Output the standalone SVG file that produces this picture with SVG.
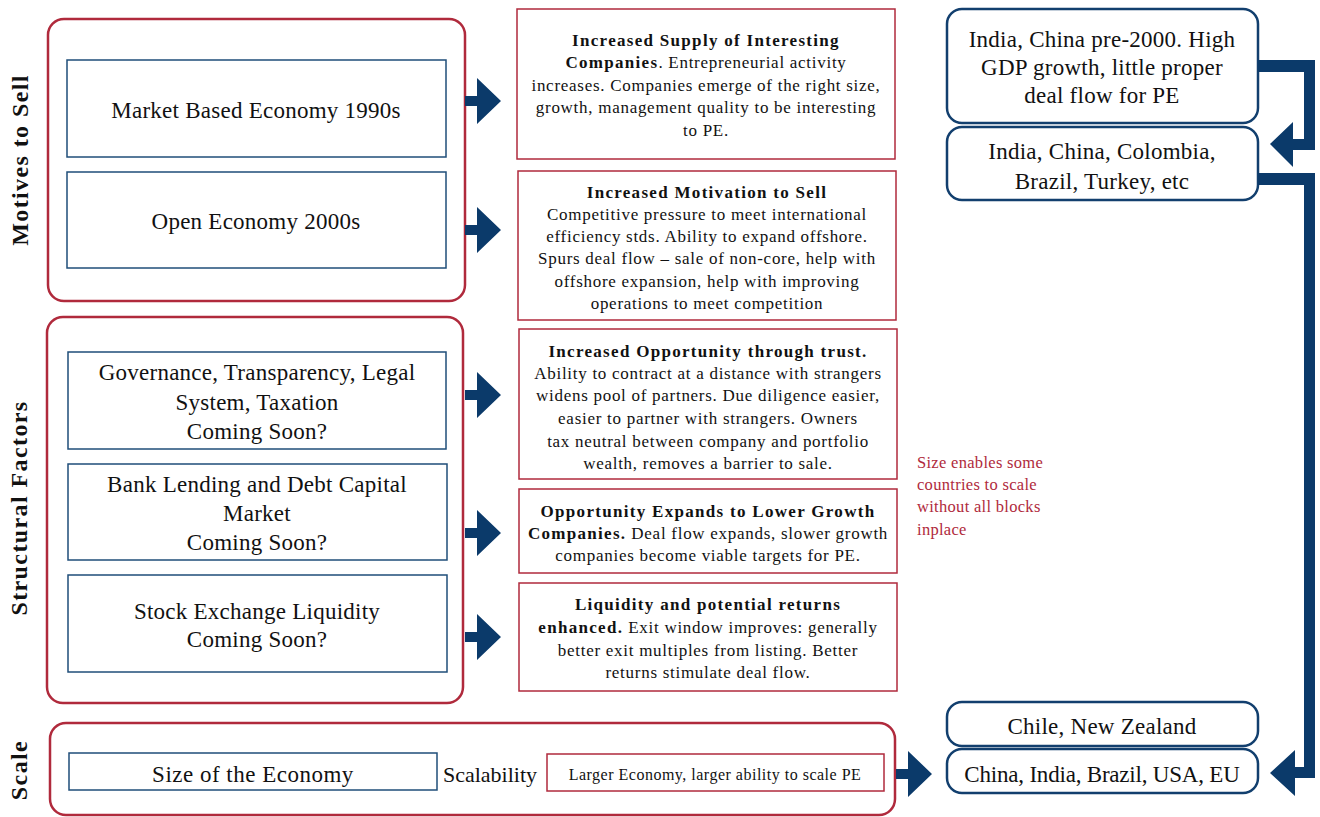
<svg xmlns="http://www.w3.org/2000/svg" width="1320" height="817" viewBox="0 0 1320 817">
<style>
text{font-family:"Liberation Serif","Times New Roman",serif;fill:#111}
.grp{fill:none;stroke:#b02a3c;stroke-width:2.5}
.blue{fill:#fff;stroke:#1f4e79;stroke-width:1.5}
.red{fill:#fff;stroke:#b02a3c;stroke-width:1.5}
.rb{fill:#fff;stroke:#123f6e;stroke-width:2.5}
.arr{fill:#0b3a6a}
.lbl{font-size:23px;letter-spacing:0.25px;text-anchor:middle}
.sm{font-size:17px;letter-spacing:0.72px;text-anchor:middle}
.b{font-weight:bold;letter-spacing:1.3px}
.side{font-size:24px;font-weight:bold;letter-spacing:1.4px;text-anchor:middle}
.note{font-size:16.5px;letter-spacing:0.3px;fill:#b02a3c}
</style>
<defs>
<path id="ra" d="M0,-5 H12 V-23 L36,0 L12,23 V5 H0 Z"/>
</defs>

<g id="motives">
<rect class="grp" x="48" y="19" width="417" height="282" rx="16"/>
<text class="side" transform="translate(28,160) rotate(-90)">Motives to Sell</text>
</g>
<g id="market-based">
<rect class="blue" x="67" y="60" width="379" height="97"/>
<text class="lbl" x="256" y="118">Market Based Economy 1990s</text>
</g>
<g id="open-economy">
<rect class="blue" x="67" y="172" width="379" height="96"/>
<text class="lbl" x="256" y="229">Open Economy 2000s</text>
</g>

<g id="structural">
<rect class="grp" x="47" y="317" width="416" height="386" rx="16"/>
<text class="side" transform="translate(27,508) rotate(-90)">Structural Factors</text>
</g>
<g id="governance">
<rect class="blue" x="68" y="352" width="378" height="97"/>
<text class="lbl" x="257" y="380">Governance, Transparency, Legal</text>
<text class="lbl" x="257" y="410">System, Taxation</text>
<text class="lbl" x="257" y="439">Coming Soon?</text>
</g>
<g id="bank">
<rect class="blue" x="68" y="464" width="379" height="96"/>
<text class="lbl" x="257" y="492">Bank Lending and Debt Capital</text>
<text class="lbl" x="257" y="521">Market</text>
<text class="lbl" x="257" y="550">Coming Soon?</text>
</g>
<g id="stock">
<rect class="blue" x="68" y="575" width="379" height="97"/>
<text class="lbl" x="257" y="619">Stock Exchange Liquidity</text>
<text class="lbl" x="257" y="647">Coming Soon?</text>
</g>

<g id="scale">
<rect class="grp" x="50" y="723" width="845" height="92" rx="16"/>
<text class="side" transform="translate(27,770) rotate(-90)">Scale</text>
</g>
<g id="size-economy">
<rect class="blue" x="69" y="753" width="368" height="37"/>
<text class="lbl" x="253" y="782" style="letter-spacing:0.5px">Size of the Economy</text>
</g>
<g id="scalability">
<text class="lbl" x="490" y="782" style="font-size:22px;letter-spacing:0">Scalability</text>
</g>
<g id="larger-economy">
<rect class="red" x="547" y="754" width="337" height="37"/>
<text x="715" y="780" style="font-size:16px;letter-spacing:0.5px;text-anchor:middle">Larger Economy, larger ability to scale PE</text>
</g>

<g id="supply">
<rect class="red" x="517" y="9" width="378" height="150"/>
<text class="sm" x="706" y="46"><tspan class="b">Increased Supply of Interesting</tspan></text>
<text class="sm" x="706" y="68"><tspan class="b">Companies</tspan>. Entrepreneurial activity</text>
<text class="sm" x="706" y="91">increases. Companies emerge of the right size,</text>
<text class="sm" x="706" y="113">growth, management quality to be interesting</text>
<text class="sm" x="706" y="136">to PE.</text>
</g>
<g id="motivation">
<rect class="red" x="518" y="171" width="378" height="149"/>
<text class="sm" x="707" y="198"><tspan class="b">Increased Motivation to Sell</tspan></text>
<text class="sm" x="707" y="220">Competitive pressure to meet international</text>
<text class="sm" x="707" y="242">efficiency stds. Ability to expand offshore.</text>
<text class="sm" x="707" y="264">Spurs deal flow – sale of non-core, help with</text>
<text class="sm" x="707" y="287">offshore expansion, help with improving</text>
<text class="sm" x="707" y="309">operations to meet competition</text>
</g>
<g id="trust">
<rect class="red" x="519" y="329" width="378" height="150"/>
<text class="sm" x="708" y="357"><tspan class="b">Increased Opportunity through trust.</tspan></text>
<text class="sm" x="708" y="379">Ability to contract at a distance with strangers</text>
<text class="sm" x="708" y="401">widens pool of partners. Due diligence easier,</text>
<text class="sm" x="708" y="424">easier to partner with strangers. Owners</text>
<text class="sm" x="708" y="447">tax neutral between company and portfolio</text>
<text class="sm" x="708" y="469">wealth, removes a barrier to sale.</text>
</g>
<g id="lower-growth">
<rect class="red" x="519" y="489" width="378" height="84"/>
<text class="sm" x="708" y="517"><tspan class="b">Opportunity Expands to Lower Growth</tspan></text>
<text class="sm" x="708" y="539"><tspan class="b">Companies.</tspan> Deal flow expands, slower growth</text>
<text class="sm" x="708" y="561">companies become viable targets for PE.</text>
</g>
<g id="liquidity">
<rect class="red" x="519" y="583" width="378" height="108"/>
<text class="sm" x="708" y="610"><tspan class="b">Liquidity and potential returns</tspan></text>
<text class="sm" x="708" y="633"><tspan class="b">enhanced.</tspan> Exit window improves: generally</text>
<text class="sm" x="708" y="656">better exit multiples from listing. Better</text>
<text class="sm" x="708" y="678">returns stimulate deal flow.</text>
</g>

<g id="note">
<text class="note" x="917" y="468">Size enables some</text>
<text class="note" x="917" y="490">countries to scale</text>
<text class="note" x="917" y="512">without all blocks</text>
<text class="note" x="917" y="535">inplace</text>
</g>

<g id="pre2000">
<rect class="rb" x="947" y="9" width="311" height="114" rx="15"/>
<text class="lbl" x="1102" y="47">India, China pre-2000. High</text>
<text class="lbl" x="1102" y="75">GDP growth, little proper</text>
<text class="lbl" x="1102" y="103">deal flow for PE</text>
</g>
<g id="emerging">
<rect class="rb" x="947" y="127" width="311" height="73" rx="15"/>
<text class="lbl" x="1102" y="159">India, China, Colombia,</text>
<text class="lbl" x="1102" y="189">Brazil, Turkey, etc</text>
</g>
<g id="chile">
<rect class="rb" x="947" y="702" width="311" height="44" rx="15"/>
<text class="lbl" x="1102" y="734">Chile, New Zealand</text>
</g>
<g id="large">
<rect class="rb" x="947" y="749" width="311" height="44" rx="15"/>
<text class="lbl" x="1102" y="782" style="letter-spacing:-0.2px">China, India, Brazil, USA, EU</text>
</g>

<g id="connectors" class="arr">
<use href="#ra" x="465" y="101"/>
<use href="#ra" x="465" y="230"/>
<use href="#ra" x="465" y="395"/>
<use href="#ra" x="465" y="533"/>
<use href="#ra" x="465" y="637"/>
<use href="#ra" x="896" y="774"/>
<path d="M1258,60 H1315 V150 H1293 V167 L1270,144 L1293,122 V139 H1304 V72 H1258 Z"/>
<path d="M1258,173 H1315 V778 H1295 V796 L1270,773 L1295,750 V767 H1304 V185 H1258 Z"/>
</g>
</svg>
